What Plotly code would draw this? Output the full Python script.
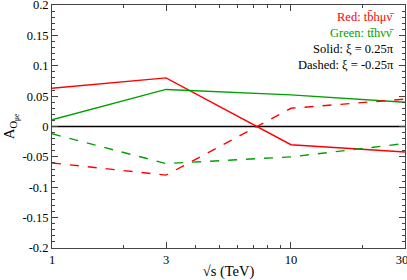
import plotly.graph_objects as go

energies = [1, 3, 10, 30]
red_solid = [0.063, 0.080, -0.030, -0.042]
green_solid = [0.011, 0.061, 0.052, 0.040]
red_dashed = [-0.060, -0.080, 0.030, 0.045]
green_dashed = [-0.012, -0.061, -0.050, -0.028]

x_ticks = [1, 3, 10, 30]
x_ticklabels = ["1", "3", "10", "30\u00a0\u00a0"]
y_ticks = [-0.2, -0.15, -0.1, -0.05, 0, 0.05, 0.1, 0.15, 0.2]
y_ticklabels = ["-0.2", "-0.15", "-0.1", "-0.05", "0", "0.05", "0.1", "0.15", "0.2"]

RED = "#ff0000"
GREEN = "#00a000"
FONT = "Liberation Serif"

fig = go.Figure()
fig.add_trace(go.Scatter(x=energies, y=red_solid, mode="lines", line=dict(color=RED, width=1.4)))
fig.add_trace(go.Scatter(x=energies, y=green_solid, mode="lines", line=dict(color=GREEN, width=1.4)))
fig.add_trace(go.Scatter(x=energies, y=red_dashed, mode="lines", line=dict(color=RED, width=1.4, dash="dash")))
fig.add_trace(go.Scatter(x=energies, y=green_dashed, mode="lines", line=dict(color=GREEN, width=1.4, dash="dash")))

fig.add_shape(type="line", xref="paper", x0=0, x1=1, yref="y", y0=0, y1=0,
              line=dict(color="black", width=1.5), layer="below")

fig.update_layout(
    width=407, height=280,
    margin=dict(l=52, r=2, t=5, b=32, autoexpand=False),
    paper_bgcolor="white", plot_bgcolor="white",
    showlegend=False,
    font=dict(family=FONT, size=12.5, color="black"),
    xaxis=dict(
        type="log", range=[0, 1.4771], tickvals=x_ticks, ticktext=x_ticklabels,
        ticks="inside", ticklen=6, tickcolor="#444", showline=True, linecolor="#444",
        linewidth=1, mirror="ticks", showgrid=False, zeroline=False, ticklabeloverflow="allow",
        minor=dict(tickvals=[2, 4, 5, 6, 7, 8, 9, 20], ticks="inside", ticklen=3, tickcolor="#444"),
        title=dict(text="√s (TeV)", font=dict(family=FONT, size=14.5), standoff=1),
        tickfont=dict(family=FONT, size=12.5),
    ),
    yaxis=dict(
        range=[-0.2, 0.2], tickvals=y_ticks, ticktext=y_ticklabels,
        ticks="inside", ticklen=6, tickcolor="#444", showline=True, linecolor="#444",
        linewidth=1, mirror="ticks", showgrid=False, zeroline=False, ticklabeloverflow="allow",
        minor=dict(dtick=0.01, ticks="inside", ticklen=3, tickcolor="#444"),
        title=dict(text="A<sub>O<sub>μe</sub></sub>", font=dict(family=FONT, size=15), standoff=4),
        tickfont=dict(family=FONT, size=12.5),
    ),
)

notes = [
    ("Red: tb̄hμν̄", RED, 17),
    ("Green: tt̄hνν̄", GREEN, 33),
    ("Solid: ξ = 0.25π", "black", 49),
    ("Dashed: ξ = -0.25π", "black", 65),
]
for text, color, ypix in notes:
    fig.add_annotation(
        x=(396 - 52) / 353, xref="paper", xanchor="right",
        y=1 - (ypix - 5) / 243, yref="paper", yanchor="middle",
        text=text, showarrow=False, font=dict(family=FONT, size=12.5, color=color),
    )

fig.write_html("out.html", config={"displayModeBar": False},
               post_script="document.body.style.margin='0';")
